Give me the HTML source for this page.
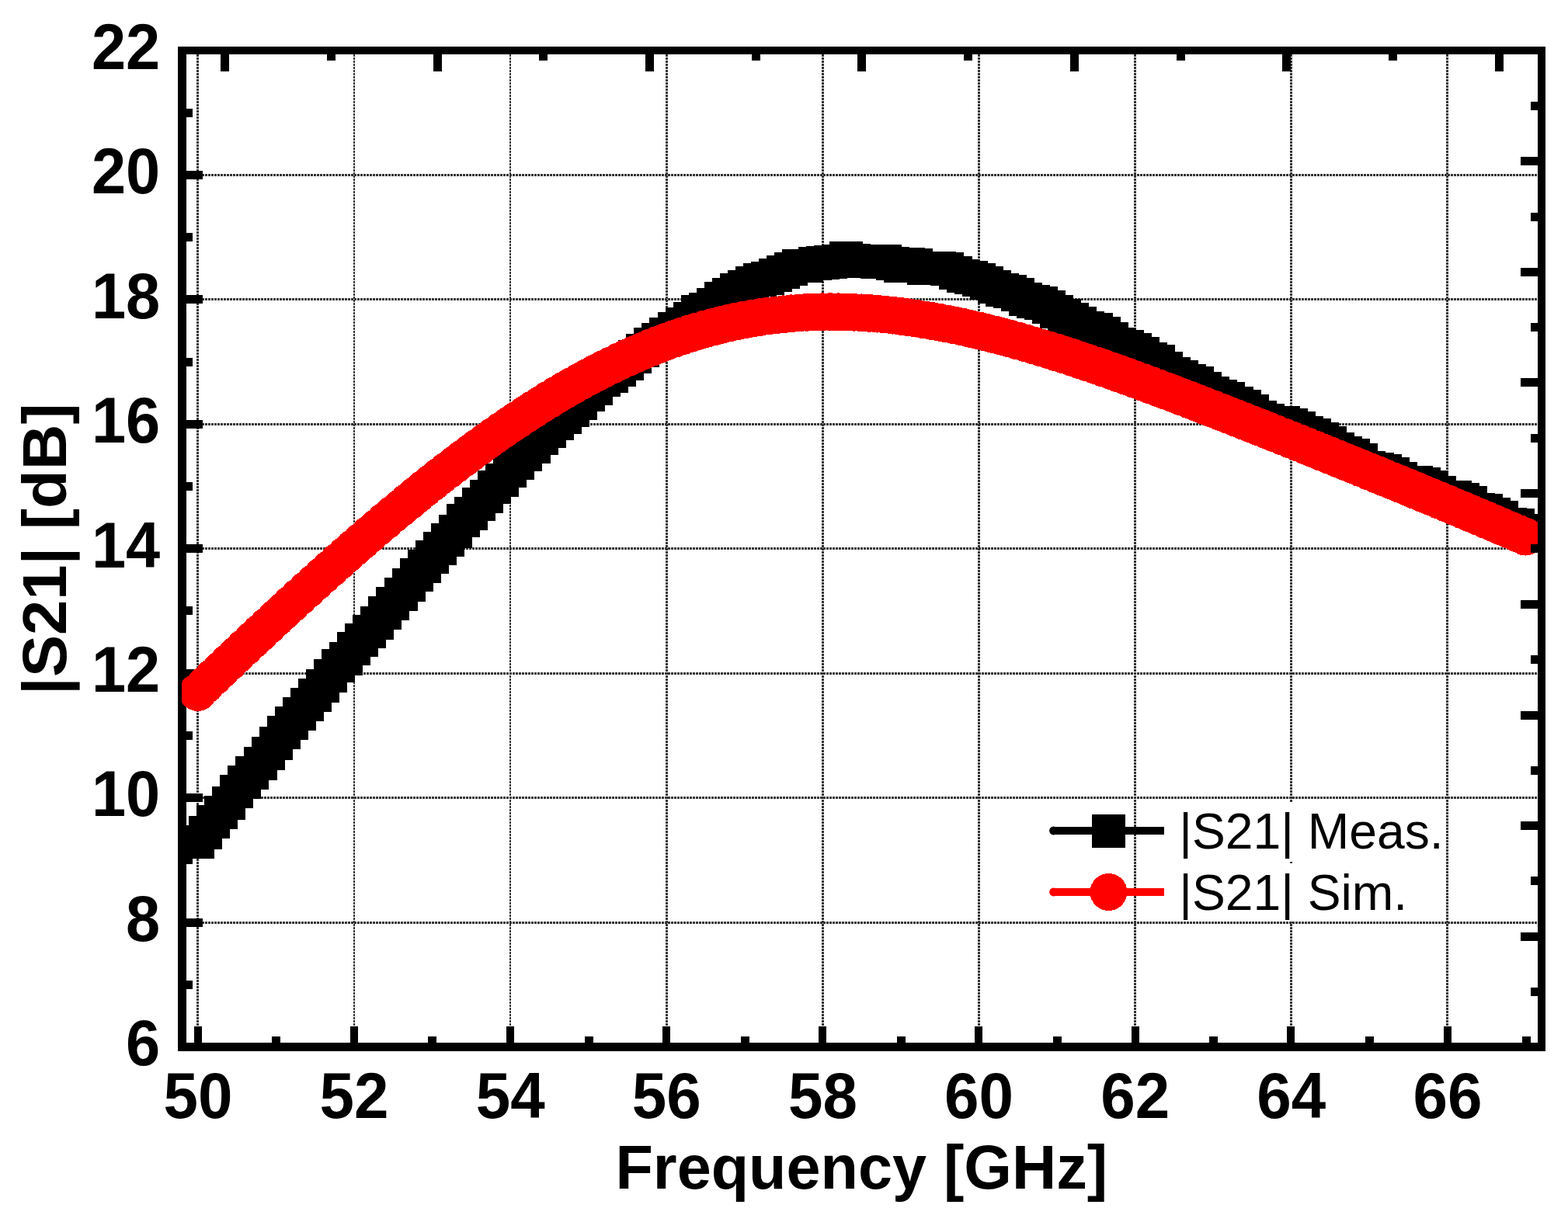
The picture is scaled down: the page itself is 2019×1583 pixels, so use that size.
<!DOCTYPE html>
<html lang="en"><head><meta charset="utf-8"><title>|S21| vs Frequency</title>
<style>html,body{margin:0;padding:0;background:#fff}body{width:2019px;height:1583px;overflow:hidden}svg{display:block}
text{font-family:"Liberation Sans",sans-serif;fill:#000}.b{font-weight:bold;font-size:80px}.l{font-size:65px}</style></head><body>
<svg width="2019" height="1583" viewBox="0 0 2019 1583">
<defs><clipPath id="c"><rect x="234" y="65" width="1751" height="1284"/></clipPath></defs>
<rect width="2019" height="1583" fill="#fff"/>
<g stroke="#333" stroke-dasharray="2.6 1.4" shape-rendering="crispEdges"><line x1="254.5" y1="70" x2="254.5" y2="1343" stroke-width="3"/><line x1="456.0" y1="70" x2="456.0" y2="1343" stroke-width="2"/><line x1="657.0" y1="70" x2="657.0" y2="1343" stroke-width="2"/><line x1="858.5" y1="70" x2="858.5" y2="1343" stroke-width="3"/><line x1="1059.5" y1="70" x2="1059.5" y2="1343" stroke-width="3"/><line x1="1260.5" y1="70" x2="1260.5" y2="1343" stroke-width="3"/><line x1="1461.5" y1="70" x2="1461.5" y2="1343" stroke-width="3"/><line x1="1662.5" y1="70" x2="1662.5" y2="1343" stroke-width="3"/><line x1="1863.5" y1="70" x2="1863.5" y2="1343" stroke-width="3"/><line x1="240" y1="225.5" x2="1980" y2="225.5" stroke-width="3"/><line x1="240" y1="385.5" x2="1980" y2="385.5" stroke-width="3"/><line x1="240" y1="546.5" x2="1980" y2="546.5" stroke-width="3"/><line x1="240" y1="706.5" x2="1980" y2="706.5" stroke-width="3"/><line x1="240" y1="867.5" x2="1980" y2="867.5" stroke-width="3"/><line x1="240" y1="1027.5" x2="1980" y2="1027.5" stroke-width="3"/><line x1="240" y1="1188.5" x2="1980" y2="1188.5" stroke-width="3"/></g>
<g fill="#000" shape-rendering="crispEdges"><rect x="229" y="60" width="11" height="1294"/><rect x="229" y="1343" width="1761" height="11"/><rect x="229" y="60" width="1761" height="10"/><rect x="1980" y="60" width="10" height="1294"/><rect x="240" y="220" width="21" height="11"/><rect x="240" y="380" width="21" height="11"/><rect x="240" y="541" width="21" height="11"/><rect x="240" y="701" width="21" height="11"/><rect x="240" y="862" width="21" height="11"/><rect x="240" y="1022" width="21" height="11"/><rect x="240" y="1183" width="21" height="11"/><rect x="240" y="140" width="8" height="11"/><rect x="240" y="300" width="8" height="11"/><rect x="240" y="461" width="8" height="11"/><rect x="240" y="621" width="8" height="11"/><rect x="240" y="781" width="8" height="11"/><rect x="240" y="942" width="8" height="11"/><rect x="240" y="1102" width="8" height="11"/><rect x="240" y="1263" width="8" height="11"/><rect x="250" y="1322" width="10" height="21"/><rect x="451" y="1322" width="10" height="21"/><rect x="652" y="1322" width="10" height="21"/><rect x="853" y="1322" width="10" height="21"/><rect x="1054" y="1322" width="10" height="21"/><rect x="1255" y="1322" width="10" height="21"/><rect x="1457" y="1322" width="10" height="21"/><rect x="1657" y="1322" width="10" height="21"/><rect x="1859" y="1322" width="10" height="21"/><rect x="350" y="1335" width="11" height="8"/><rect x="551" y="1335" width="11" height="8"/><rect x="753" y="1335" width="11" height="8"/><rect x="954" y="1335" width="11" height="8"/><rect x="1155" y="1335" width="11" height="8"/><rect x="1356" y="1335" width="11" height="8"/><rect x="1557" y="1335" width="11" height="8"/><rect x="1758" y="1335" width="11" height="8"/><rect x="1960" y="1335" width="11" height="8"/></g>
<g clip-path="url(#c)" shape-rendering="crispEdges"><path d="M233 1063h43v43h-43zM243 1051h43v43h-43zM253 1037h43v43h-43zM263 1025h43v43h-43zM273 1013h43v43h-43zM283 998h43v43h-43zM293 986h43v43h-43zM303 974h43v43h-43zM314 962h43v43h-43zM324 949h43v43h-43zM334 936h43v43h-43zM344 922h43v43h-43zM354 910h43v43h-43zM364 898h43v43h-43zM374 886h43v43h-43zM384 874h43v43h-43zM394 862h43v43h-43zM404 849h43v43h-43zM414 836h43v43h-43zM424 827h43v43h-43zM434 814h43v43h-43zM444 803h43v43h-43zM454 792h43v43h-43zM464 781h43v43h-43zM474 768h43v43h-43zM484 756h43v43h-43zM495 744h43v43h-43zM505 732h43v43h-43zM515 719h43v43h-43zM525 708h43v43h-43zM535 696h43v43h-43zM545 685h43v43h-43zM555 674h43v43h-43zM565 663h43v43h-43zM575 649h43v43h-43zM585 640h43v43h-43zM595 628h43v43h-43zM605 618h43v43h-43zM615 606h43v43h-43zM625 597h43v43h-43zM635 585h43v43h-43zM645 575h43v43h-43zM655 564h43v43h-43zM666 554h43v43h-43zM676 543h43v43h-43zM686 534h43v43h-43zM696 524h43v43h-43zM706 516h43v43h-43zM716 507h43v43h-43zM726 498h43v43h-43zM736 487h43v43h-43zM746 479h43v43h-43zM756 468h43v43h-43zM766 463h43v43h-43zM776 455h43v43h-43zM786 447h43v43h-43zM796 438h43v43h-43zM806 430h43v43h-43zM816 422h43v43h-43zM826 416h43v43h-43zM836 409h43v43h-43zM847 402h43v43h-43zM857 396h43v43h-43zM867 389h43v43h-43zM877 380h43v43h-43zM887 377h43v43h-43zM897 371h43v43h-43zM907 363h43v43h-43zM917 358h43v43h-43zM927 352h43v43h-43zM937 348h43v43h-43zM947 343h43v43h-43zM957 339h43v43h-43zM967 337h43v43h-43zM977 333h43v43h-43zM987 329h43v43h-43zM997 325h43v43h-43zM1007 321h43v43h-43zM1017 321h43v43h-43zM1028 318h43v43h-43zM1038 317h43v43h-43zM1048 316h43v43h-43zM1058 315h43v43h-43zM1068 311h43v43h-43zM1078 314h43v43h-43zM1088 315h43v43h-43zM1098 315h43v43h-43zM1108 316h43v43h-43zM1118 315h43v43h-43zM1128 318h43v43h-43zM1138 321h43v43h-43zM1148 319h43v43h-43zM1158 320h43v43h-43zM1168 324h43v43h-43zM1178 324h43v43h-43zM1188 324h43v43h-43zM1198 325h43v43h-43zM1209 330h43v43h-43zM1219 334h43v43h-43zM1229 336h43v43h-43zM1239 339h43v43h-43zM1249 343h43v43h-43zM1259 348h43v43h-43zM1269 352h43v43h-43zM1279 354h43v43h-43zM1289 358h43v43h-43zM1299 364h43v43h-43zM1309 367h43v43h-43zM1319 369h43v43h-43zM1329 374h43v43h-43zM1339 380h43v43h-43zM1349 385h43v43h-43zM1359 390h43v43h-43zM1369 395h43v43h-43zM1379 401h43v43h-43zM1390 403h43v43h-43zM1400 408h43v43h-43zM1410 415h43v43h-43zM1420 422h43v43h-43zM1430 425h43v43h-43zM1440 429h43v43h-43zM1450 434h43v43h-43zM1460 441h43v43h-43zM1470 444h43v43h-43zM1480 453h43v43h-43zM1490 460h43v43h-43zM1500 464h43v43h-43zM1510 469h43v43h-43zM1520 472h43v43h-43zM1530 479h43v43h-43zM1540 485h43v43h-43zM1550 489h43v43h-43zM1560 492h43v43h-43zM1571 498h43v43h-43zM1581 502h43v43h-43zM1591 508h43v43h-43zM1601 516h43v43h-43zM1611 520h43v43h-43zM1621 523h43v43h-43zM1631 523h43v43h-43zM1641 526h43v43h-43zM1651 530h43v43h-43zM1661 536h43v43h-43zM1671 539h43v43h-43zM1681 544h43v43h-43zM1691 549h43v43h-43zM1701 557h43v43h-43zM1711 562h43v43h-43zM1721 565h43v43h-43zM1731 571h43v43h-43zM1741 581h43v43h-43zM1752 583h43v43h-43zM1762 585h43v43h-43zM1772 589h43v43h-43zM1782 595h43v43h-43zM1792 600h43v43h-43zM1802 600h43v43h-43zM1812 602h43v43h-43zM1822 606h43v43h-43zM1832 613h43v43h-43zM1842 619h43v43h-43zM1852 619h43v43h-43zM1862 622h43v43h-43zM1872 626h43v43h-43zM1882 635h43v43h-43zM1892 636h43v43h-43zM1902 641h43v43h-43zM1912 645h43v43h-43zM1923 654h43v43h-43zM1933 655h43v43h-43zM1943 662h43v43h-43z" fill="#000"/>
<path d="M254.6 891.6h0M264.7 882.0h0M274.7 872.3h0M284.8 862.7h0M294.8 853.2h0M304.9 843.6h0M314.9 834.1h0M325.0 824.7h0M335.0 815.3h0M345.1 805.9h0M355.2 796.5h0M365.2 787.2h0M375.3 777.9h0M385.3 768.7h0M395.4 759.6h0M405.4 750.5h0M415.5 741.4h0M425.6 732.4h0M435.6 723.4h0M445.7 714.5h0M455.7 705.7h0M465.8 697.0h0M475.8 688.3h0M485.9 679.7h0M495.9 671.1h0M506.0 662.6h0M516.1 654.3h0M526.1 646.0h0M536.2 637.7h0M546.2 629.6h0M556.3 621.6h0M566.3 613.6h0M576.4 605.8h0M586.4 598.1h0M596.5 590.5h0M606.6 583.0h0M616.6 575.6h0M626.7 568.3h0M636.7 561.1h0M646.8 554.1h0M656.8 547.2h0M666.9 540.4h0M677.0 533.8h0M687.0 527.3h0M697.1 520.9h0M707.1 514.7h0M717.2 508.6h0M727.2 502.7h0M737.3 496.9h0M747.3 491.3h0M757.4 485.8h0M767.5 480.5h0M777.5 475.4h0M787.6 470.4h0M797.6 465.5h0M807.7 460.9h0M817.7 456.4h0M827.8 452.1h0M837.8 447.9h0M847.9 443.9h0M858.0 440.1h0M868.0 436.5h0M878.1 433.1h0M888.1 429.8h0M898.2 426.7h0M908.2 423.8h0M918.3 421.1h0M928.4 418.5h0M938.4 416.2h0M948.5 414.0h0M958.5 412.0h0M968.6 410.2h0M978.6 408.5h0M988.7 407.1h0M998.7 405.8h0M1008.8 404.7h0M1018.9 403.8h0M1028.9 403.0h0M1039.0 402.4h0M1049.0 402.0h0M1059.1 401.7h0M1069.1 401.6h0M1079.2 401.7h0M1089.2 401.9h0M1099.3 402.3h0M1109.4 402.8h0M1119.4 403.4h0M1129.5 404.2h0M1139.5 405.1h0M1149.6 406.2h0M1159.6 407.4h0M1169.7 408.7h0M1179.8 410.2h0M1189.8 411.8h0M1199.9 413.5h0M1209.9 415.3h0M1220.0 417.2h0M1230.0 419.2h0M1240.1 421.3h0M1250.1 423.6h0M1260.2 425.9h0M1270.3 428.4h0M1280.3 430.9h0M1290.4 433.5h0M1300.4 436.2h0M1310.5 439.0h0M1320.5 441.9h0M1330.6 444.8h0M1340.6 447.8h0M1350.7 450.9h0M1360.8 454.1h0M1370.8 457.3h0M1380.9 460.5h0M1390.9 463.9h0M1401.0 467.3h0M1411.0 470.7h0M1421.1 474.2h0M1431.2 477.7h0M1441.2 481.3h0M1451.3 484.9h0M1461.3 488.6h0M1471.4 492.3h0M1481.4 496.0h0M1491.5 499.7h0M1501.5 503.5h0M1511.6 507.3h0M1521.7 511.2h0M1531.7 515.0h0M1541.8 518.9h0M1551.8 522.8h0M1561.9 526.7h0M1571.9 530.6h0M1582.0 534.6h0M1592.0 538.5h0M1602.1 542.5h0M1612.2 546.5h0M1622.2 550.4h0M1632.3 554.4h0M1642.3 558.5h0M1652.4 562.5h0M1662.4 566.5h0M1672.5 570.5h0M1682.6 574.6h0M1692.6 578.6h0M1702.7 582.7h0M1712.7 586.7h0M1722.8 590.8h0M1732.8 594.9h0M1742.9 599.0h0M1752.9 603.1h0M1763.0 607.2h0M1773.1 611.3h0M1783.1 615.4h0M1793.2 619.5h0M1803.2 623.6h0M1813.3 627.8h0M1823.3 631.9h0M1833.4 636.1h0M1843.4 640.2h0M1853.5 644.4h0M1863.6 648.6h0M1873.6 652.8h0M1883.7 657.0h0M1893.7 661.2h0M1903.8 665.5h0M1913.8 669.7h0M1923.9 674.0h0M1934.0 678.3h0M1944.0 682.6h0M1954.1 686.9h0M1964.1 691.2h0" fill="none" stroke="#fe0000" stroke-width="48.7" stroke-linecap="round" stroke-linejoin="round"/></g>
<g fill="#000" shape-rendering="crispEdges"><rect x="1980" y="60" width="10" height="1294"/><rect x="229" y="60" width="1761" height="10"/><rect x="1958" y="202" width="22" height="11"/><rect x="1958" y="345" width="22" height="11"/><rect x="1958" y="487" width="22" height="11"/><rect x="1958" y="630" width="22" height="11"/><rect x="1958" y="773" width="22" height="11"/><rect x="1958" y="916" width="22" height="11"/><rect x="1958" y="1058" width="22" height="11"/><rect x="1958" y="1201" width="22" height="11"/><rect x="1971" y="131" width="9" height="11"/><rect x="1971" y="274" width="9" height="11"/><rect x="1971" y="416" width="9" height="11"/><rect x="1971" y="559" width="9" height="11"/><rect x="1971" y="701" width="9" height="11"/><rect x="1971" y="844" width="9" height="11"/><rect x="1971" y="987" width="9" height="11"/><rect x="1971" y="1129" width="9" height="11"/><rect x="1971" y="1272" width="9" height="11"/><rect x="284" y="70" width="11" height="22"/><rect x="558" y="70" width="11" height="22"/><rect x="831" y="70" width="11" height="22"/><rect x="1104" y="70" width="11" height="22"/><rect x="1378" y="70" width="11" height="22"/><rect x="1651" y="70" width="11" height="22"/><rect x="1925" y="70" width="11" height="22"/><rect x="421" y="70" width="11" height="8"/><rect x="694" y="70" width="11" height="8"/><rect x="968" y="70" width="11" height="8"/><rect x="1241" y="70" width="11" height="8"/><rect x="1515" y="70" width="11" height="8"/><rect x="1788" y="70" width="11" height="8"/></g>
<g shape-rendering="crispEdges"><rect x="1512" y="1034" width="348" height="75" fill="#fff"/><rect x="1512" y="1112" width="348" height="75" fill="#fff"/>
<rect x="1356" y="1065" width="143" height="10" fill="#000"/><circle cx="1356.5" cy="1070" r="5.4" fill="#000" shape-rendering="auto"/><rect x="1406" y="1049" width="43" height="43" fill="#000"/>
<rect x="1356" y="1144" width="143" height="10" fill="#fe0000"/><circle cx="1356.5" cy="1149" r="5.4" fill="#fe0000" shape-rendering="auto"/><circle cx="1427.5" cy="1149" r="24" fill="#fe0000"/></g>
<text class="l" transform="translate(1518.3 1092.7) scale(.988 1)">|S21| Meas.</text>
<text class="l" transform="translate(1518.3 1171.8) scale(.988 1)">|S21| Sim.</text>
<text class="b" transform="translate(206.2 1372.1) scale(.992 1.0375)" text-anchor="end">6</text>
<text class="b" transform="translate(206.2 1211.7) scale(.992 1.0375)" text-anchor="end">8</text>
<text class="b" transform="translate(206.2 1051.3) scale(.992 1.0375)" text-anchor="end">10</text>
<text class="b" transform="translate(206.2 890.9) scale(.992 1.0375)" text-anchor="end">12</text>
<text class="b" transform="translate(206.2 730.5) scale(.992 1.0375)" text-anchor="end">14</text>
<text class="b" transform="translate(206.2 570.1) scale(.992 1.0375)" text-anchor="end">16</text>
<text class="b" transform="translate(206.2 409.7) scale(.992 1.0375)" text-anchor="end">18</text>
<text class="b" transform="translate(206.2 249.3) scale(.992 1.0375)" text-anchor="end">20</text>
<text class="b" transform="translate(206.2 88.9) scale(.992 1.0375)" text-anchor="end">22</text>
<text class="b" transform="translate(255.0 1439.9) scale(1 1.0375)" text-anchor="middle">50</text>
<text class="b" transform="translate(456.1 1439.9) scale(1 1.0375)" text-anchor="middle">52</text>
<text class="b" transform="translate(657.2 1439.9) scale(1 1.0375)" text-anchor="middle">54</text>
<text class="b" transform="translate(858.3 1439.9) scale(1 1.0375)" text-anchor="middle">56</text>
<text class="b" transform="translate(1059.4 1439.9) scale(1 1.0375)" text-anchor="middle">58</text>
<text class="b" transform="translate(1260.6 1439.9) scale(1 1.0375)" text-anchor="middle">60</text>
<text class="b" transform="translate(1461.7 1439.9) scale(1 1.0375)" text-anchor="middle">62</text>
<text class="b" transform="translate(1662.8 1439.9) scale(1 1.0375)" text-anchor="middle">64</text>
<text class="b" transform="translate(1863.9 1439.9) scale(1 1.0375)" text-anchor="middle">66</text>
<text class="b" transform="translate(1109.3 1531.3) scale(.99 1)" text-anchor="middle">Frequency [GHz]</text>
<text class="b" transform="translate(85.2 707.2) rotate(-90) scale(1.0167 1)" text-anchor="middle">|S21| [dB]</text>
</svg></body></html>
